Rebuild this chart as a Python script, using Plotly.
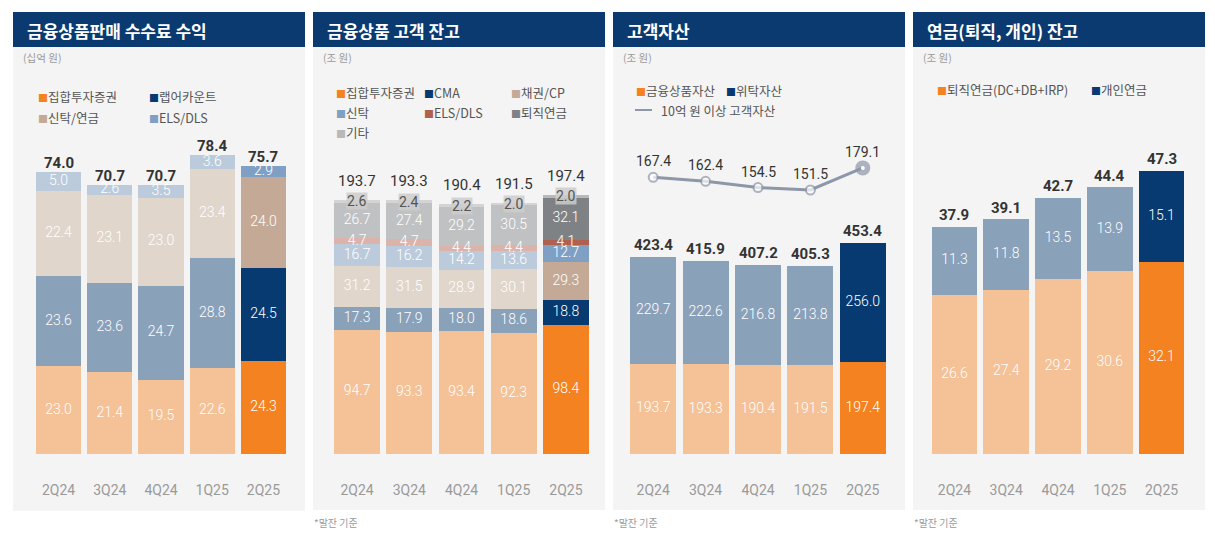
import plotly.graph_objects as go

W, H = 1215, 543

# ---------------- data ----------------
quarters = ["2Q24", "3Q24", "4Q24", "1Q25", "2Q25"]

p1_title = "금융상품판매 수수료 수익"
p1_unit = "(십억 원)"
p1_names = ["집합투자증권", "랩어카운트", "신탁/연금", "ELS/DLS"]
p1_fund = [23.0, 21.4, 19.5, 22.6, 24.3]
p1_wrap = [23.6, 23.6, 24.7, 28.8, 24.5]
p1_trust = [22.4, 23.1, 23.0, 23.4, 24.0]
p1_els = [5.0, 2.6, 3.5, 3.6, 2.9]
p1_total = [74.0, 70.7, 70.7, 78.4, 75.7]

p2_title = "금융상품 고객 잔고"
p2_unit = "(조 원)"
p2_names = ["집합투자증권", "CMA", "채권/CP", "신탁", "ELS/DLS", "퇴직연금", "기타"]
p2_fund = [94.7, 93.3, 93.4, 92.3, 98.4]
p2_cma = [17.3, 17.9, 18.0, 18.6, 18.8]
p2_bond = [31.2, 31.5, 28.9, 30.1, 29.3]
p2_trust = [16.7, 16.2, 14.2, 13.6, 12.7]
p2_els = [4.7, 4.7, 4.4, 4.4, 4.1]
p2_pension = [26.7, 27.4, 29.2, 30.5, 32.1]
p2_other = [2.6, 2.4, 2.2, 2.0, 2.0]
p2_total = [193.7, 193.3, 190.4, 191.5, 197.4]

p3_title = "고객자산"
p3_unit = "(조 원)"
p3_names = ["금융상품자산", "위탁자산", "10억 원 이상 고객자산"]
p3_fin = [193.7, 193.3, 190.4, 191.5, 197.4]
p3_broker = [229.7, 222.6, 216.8, 213.8, 256.0]
p3_total = [423.4, 415.9, 407.2, 405.3, 453.4]
p3_hnw = [167.4, 162.4, 154.5, 151.5, 179.1]

p4_title = "연금(퇴직, 개인) 잔고"
p4_unit = "(조 원)"
p4_names = ["퇴직연금(DC+DB+IRP)", "개인연금"]
p4_retire = [26.6, 27.4, 29.2, 30.6, 32.1]
p4_personal = [11.3, 11.8, 13.5, 13.9, 15.1]
p4_total = [37.9, 39.1, 42.7, 44.4, 47.3]

footnote = "*말잔 기준"

# ---------------- styles ----------------
ORANGE = ("#f58220", "#f5c197")
NAVY = ("#073a70", "#8aa1ba")
TAN = ("#c4a996", "#e0d6cc")
BLUE = ("#7f9fc4", "#bccbdc")
RED = ("#b0604e", "#dcb3aa")
GRAY = ("#7f8285", "#c0c1c3")
LGRAY = ("#b9b9b9", "#d4d4d4")
HEADER = "#0a3a70"
PANEL_BG = "#f4f4f4"
LINE_C = "#8e97a8"

KFONT = "Noto Sans CJK KR"
NFONT = "Roboto, Noto Sans CJK KR"


def cols(pair):
    return [pair[1]] * 4 + [pair[0]]


def xp(v):
    return v / W


def yp(v):
    return 1 - v / H


BAR_BOTTOM, BAR_TOP = 454, 150
ydom = [yp(BAR_BOTTOM), yp(BAR_TOP)]
span = BAR_BOTTOM - BAR_TOP

panels = [
    dict(left=13, right=305, bottom=511, xdom=(32.9, 289.1), scale=3.81,
         title=p1_title, unit=p1_unit, tshift=9, tbold=True),
    dict(left=313, right=605, bottom=510, xdom=(331.0, 592.0), scale=1.312,
         title=p2_title, unit=p2_unit, tshift=19, tbold=False),
    dict(left=613, right=905, bottom=510, xdom=(627.0, 889.0), scale=0.465,
         title=p3_title, unit=p3_unit, tshift=12, tbold=True),
    dict(left=913, right=1205, bottom=510, xdom=(928.6, 1187.4), scale=5.99,
         title=p4_title, unit=p4_unit, tshift=12, tbold=True),
]

stacks = [
    [(p1_fund, ORANGE), (p1_wrap, NAVY), (p1_trust, TAN), (p1_els, BLUE)],
    [(p2_fund, ORANGE), (p2_cma, NAVY), (p2_bond, TAN), (p2_trust, BLUE),
     (p2_els, RED), (p2_pension, GRAY), (p2_other, LGRAY)],
    [(p3_fin, ORANGE), (p3_broker, NAVY)],
    [(p4_retire, ORANGE), (p4_personal, NAVY)],
]
totals = [p1_total, p2_total, p3_total, p4_total]

fig = go.Figure()
shapes = []
annotations = []
layout_axes = {}

for i, (pn, stack, tot) in enumerate(zip(panels, stacks, totals)):
    k = "" if i == 0 else str(i + 1)
    xr, yr = "x" + k, "y" + k
    # backgrounds
    shapes.append(dict(type="rect", xref="paper", yref="paper", layer="below",
                       x0=xp(pn["left"]), x1=xp(pn["right"]), y0=yp(pn["bottom"]), y1=yp(12),
                       fillcolor=PANEL_BG, line_width=0))
    shapes.append(dict(type="rect", xref="paper", yref="paper", layer="below",
                       x0=xp(pn["left"]), x1=xp(pn["right"]), y0=yp(47), y1=yp(12),
                       fillcolor=HEADER, line_width=0))
    annotations.append(dict(xref="paper", yref="paper", x=xp(pn["left"] + 12), y=yp(31),
                            xanchor="left", yanchor="middle", showarrow=False, text=pn["title"],
                            font=dict(family=KFONT, size=17, color="white", weight=700)))
    annotations.append(dict(xref="paper", yref="paper", x=xp(pn["left"] + 8), y=yp(58),
                            xanchor="left", yanchor="middle", showarrow=False, text=pn["unit"],
                            font=dict(family=KFONT, size=10.5, color="#9a9a9a")))

    base = [0.0] * 5
    n = len(stack)
    for j, (vals, pair) in enumerate(stack):
        fig.add_trace(go.Bar(x=quarters, y=vals, marker=dict(color=cols(pair), line_width=0),
                             xaxis=xr, yaxis=yr, showlegend=False, hoverinfo="skip"))
        mids = [b + v / 2 for b, v in zip(base, vals)]
        labels = [f"{v:.1f}" for v in vals]
        if i == 1 and j == n - 1:
            for q, b, v, lab in zip(quarters, base, vals, labels):
                annotations.append(dict(x=q, y=b + v / 2, xref=xr, yref=yr, showarrow=False,
                                        text=lab, bgcolor="rgba(205,205,205,0.85)",
                                        borderpad=0, xanchor="center", yanchor="middle",
                                        font=dict(family=NFONT, size=14, color="#555555")))
        else:
            fig.add_trace(go.Scatter(x=quarters, y=mids, text=labels, mode="text",
                                     textposition="middle center", cliponaxis=False,
                                     textfont=dict(family=NFONT, size=14, color="white", weight=300),
                                     xaxis=xr, yaxis=yr, showlegend=False, hoverinfo="skip"))
        base = [b + v for b, v in zip(base, vals)]

    for q, t in zip(quarters, tot):
        annotations.append(dict(x=q, y=t, xref=xr, yref=yr, showarrow=False,
                                text=f"{t:.1f}", xanchor="center", yanchor="middle",
                                yshift=pn["tshift"],
                                font=dict(family=NFONT, size=15, color="#333333",
                                          weight=700 if pn["tbold"] else 400)))

    layout_axes["xaxis" + k] = dict(domain=[xp(pn["xdom"][0]), xp(pn["xdom"][1])], anchor=yr,
                                    type="category", range=[-0.5, 4.5], showgrid=False,
                                    zeroline=False, showline=False, ticks="",
                                    ticklabelstandoff=26,
                                    tickfont=dict(family=NFONT, size=14, color="#9a9a9a"),
                                    fixedrange=True)
    layout_axes["yaxis" + k] = dict(domain=ydom, anchor=xr, range=[0, span / pn["scale"]],
                                    visible=False, fixedrange=True)

# line in panel 3 (own scale)
line_scale = 0.8
line_lo = 151.5 - (BAR_BOTTOM - 190) / line_scale
layout_axes["yaxis5"] = dict(domain=ydom, anchor="x3", range=[line_lo, line_lo + span / line_scale],
                             visible=False, fixedrange=True)
fig.add_trace(go.Scatter(x=quarters, y=p3_hnw, xaxis="x3", yaxis="y5", mode="lines+markers",
                         line=dict(color=LINE_C, width=3), cliponaxis=False,
                         marker=dict(size=[9, 9, 9, 9, 13], color=["white"] * 4 + [LINE_C],
                                     line=dict(color=LINE_C, width=2)),
                         showlegend=False, hoverinfo="skip"))
fig.add_trace(go.Scatter(x=quarters[-1:], y=p3_hnw[-1:], xaxis="x3", yaxis="y5", mode="markers",
                         marker=dict(size=4, color="white"), cliponaxis=False,
                         showlegend=False, hoverinfo="skip"))
for q, v in zip(quarters, p3_hnw):
    annotations.append(dict(x=q, y=v, xref="x3", yref="y5", showarrow=False, text=f"{v:.1f}",
                            xanchor="center", yanchor="middle", yshift=16,
                            font=dict(family=NFONT, size=14, color="#333333")))

# ---------------- legends (text) ----------------
def leg(x, y, name, color):
    annotations.append(dict(xref="paper", yref="paper", x=xp(x), y=yp(y), xanchor="left",
                            yanchor="middle", showarrow=False,
                            text=f'<span style="color:{color};font-size:10px">■</span>{name}',
                            font=dict(family=KFONT, size=12.5, color="#555555")))

p1_leg_pos = [(36, 96), (147, 96), (36, 117), (147, 117)]
for (x, y), name, (_, pair) in zip(p1_leg_pos, p1_names, stacks[0]):
    leg(x, y, name, pair[0])
p2_leg_pos = [(334, 92), (422, 92), (509, 92), (334, 112), (422, 112), (509, 112), (334, 132)]
for (x, y), name, (_, pair) in zip(p2_leg_pos, p2_names, stacks[1]):
    leg(x, y, name, pair[0])
p3_leg_pos = [(634, 90), (724, 90)]
for (x, y), name, (_, pair) in zip(p3_leg_pos, p3_names[:2], stacks[2]):
    leg(x, y, name, pair[0])
shapes.append(dict(type="line", xref="paper", yref="paper", x0=xp(635), x1=xp(652),
                   y0=yp(110), y1=yp(110), line=dict(color=LINE_C, width=2)))
annotations.append(dict(xref="paper", yref="paper", x=xp(659), y=yp(110), xanchor="left",
                        yanchor="middle", showarrow=False, text=p3_names[2],
                        font=dict(family=KFONT, size=12.5, color="#555555")))
p4_leg_pos = [(935, 89), (1089, 89)]
for (x, y), name, (_, pair) in zip(p4_leg_pos, p4_names, stacks[3]):
    leg(x, y, name, pair[0])

for x in (313, 613, 913):
    annotations.append(dict(xref="paper", yref="paper", x=xp(x - 1), y=yp(522), xanchor="left",
                            yanchor="middle", showarrow=False, text=footnote,
                            font=dict(family=KFONT, size=10, color="#9a9a9a")))

fig.update_layout(width=W, height=H, margin=dict(l=0, r=0, t=0, b=0),
                  paper_bgcolor="white", plot_bgcolor="rgba(0,0,0,0)",
                  barmode="stack", bargap=0.12, showlegend=False,
                  shapes=shapes, annotations=annotations, **layout_axes)

fig.write_html("out.html", config={"displayModeBar": False},
               post_script="document.body.style.margin='0';document.body.style.overflow='hidden';")
